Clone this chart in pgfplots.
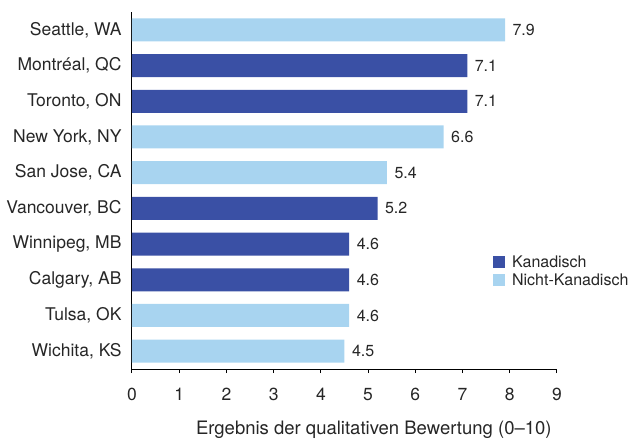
\documentclass[border=0pt]{standalone}
\usepackage{fontspec}
\setmainfont{TeX Gyre Heros}
\usepackage{pgfplots}
\pgfplotsset{compat=1.18}
\definecolor{darkb}{RGB}{58,80,165}
\definecolor{lightb}{RGB}{168,212,240}
\begin{document}
\begin{tikzpicture}[font=\fontsize{16}{19}\selectfont, text=black!85]
\begin{axis}[
  at={(0,0)}, anchor=south west,
  scale only axis, width=425pt, height=357pt,
  xmin=0, xmax=9, ymin=-0.5, ymax=9.5,
  y dir=reverse,
  axis lines*=left,
  axis line style={line width=1pt, black},
  xtick={0,...,9},
  ytick={0,...,9},
  yticklabels={{Seattle, WA},{Montréal, QC},{Toronto, ON},{New York, NY},{San Jose, CA},{Vancouver, BC},{Winnipeg, MB},{Calgary, AB},{Tulsa, OK},{Wichita, KS}},
  minor ytick={-0.5,0.5,...,9.5},
  tick align=outside,
  tick pos=left,
  major tick length=4pt, minor tick length=4pt,
  ytick style={draw=none},
  minor tick style={black, line width=1pt},
  xtick style={black, line width=1pt},
  yticklabel style={xshift=-3pt, font=\fontsize{17.5}{20}\selectfont},
  xticklabel style={yshift=-12pt, font=\fontsize{17.5}{20}\selectfont},
  /pgf/number format/assume math mode=true,
  xlabel={Ergebnis der qualitativen Bewertung (0–10)},
  every axis x label/.style={at={(axis description cs:0.569,0)}, anchor=base, yshift=-65pt, font=\fontsize{18.5}{22}\selectfont},
  legend style={draw=none, fill=none, at={(axis description cs:0.848,0.325)}, anchor=north west, cells={anchor=west}, row sep=0pt, inner sep=0pt, nodes={inner sep=2.5pt}, column sep=5pt},
  legend image code/.code={\fill[#1] (0pt,-6pt) rectangle (12pt,6pt);},
  nodes near coords,
  nodes near coords style={anchor=west, xshift=4pt, font=\fontsize{16}{19}\selectfont},
  point meta=x,
  every node near coord/.append style={/pgf/number format/.cd, fixed, fixed zerofill, precision=1},
]
\addplot[xbar, bar width=23pt, bar shift=0pt, fill=darkb, draw=none] coordinates {(7.1,1) (7.1,2) (5.2,5) (4.6,6) (4.6,7)};
\addlegendentry{Kanadisch}
\addplot[xbar, bar width=23pt, bar shift=0pt, fill=lightb, draw=none] coordinates {(7.9,0) (6.6,3) (5.4,4) (4.6,8) (4.5,9)};
\addlegendentry{Nicht-Kanadisch}
\end{axis}
\pgfresetboundingbox
\path[use as bounding box] (-132pt,-70pt) rectangle (503pt,369pt);
\end{tikzpicture}
\end{document}
